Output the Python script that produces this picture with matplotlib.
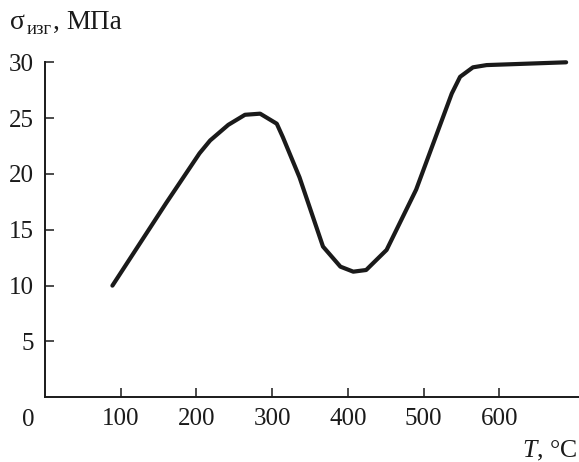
import matplotlib.pyplot as plt

plt.rcParams['font.family'] = 'Liberation Serif'
plt.rcParams['mathtext.fontset'] = 'custom'
plt.rcParams['mathtext.rm'] = 'Liberation Serif'
plt.rcParams['mathtext.it'] = 'Liberation Serif:italic'

temp = [89, 160, 204, 218, 242, 264, 284, 306, 314, 336, 367, 390, 407, 424, 442,
        451, 490, 537, 548, 565, 583, 688]
sigma = [10.0, 17.4, 21.85, 23.0, 24.4, 25.3, 25.4, 24.5, 23.3, 19.7, 13.5, 11.7, 11.25, 11.4, 12.6,
         13.2, 18.6, 27.2, 28.7, 29.55, 29.75, 30.0]

xticks = [100, 200, 300, 400, 500, 600]
yticks = [5, 10, 15, 20, 25, 30]

W, H = 579, 462
fig = plt.figure(figsize=(W / 100, H / 100), dpi=100)
ax = fig.add_axes([45 / W, 1 - 397.3 / H, 534 / W, 335 / H])

ax.plot(temp, sigma, color='#1a1a1a', lw=3.0, solid_joinstyle='round',
        solid_capstyle='round', clip_on=False)

ax.set_xlim(0, 705)
ax.set_ylim(0, 30)
ax.set_xticks(xticks)
ax.set_yticks(yticks)
ax.tick_params(direction='in', length=6.5, width=1.1, labelsize=18,
               colors='#1a1a1a', pad=8)
ax.tick_params(axis='x', pad=8)

for s in ['top', 'right']:
    ax.spines[s].set_visible(False)
for s in ['left', 'bottom']:
    ax.spines[s].set_linewidth(1.4)
    ax.spines[s].set_color('#1a1a1a')

# origin label
fig.text(28 / W, 1 - 420 / H, '0', fontsize=18, ha='center', va='center', color='#1a1a1a')

# y axis title: sigma with subscript
fig.text(10 / W, 1 - 29 / H, 'σ', fontsize=20, ha='left', va='baseline', color='#1a1a1a')
fig.text(27 / W, 1 - 34 / H, 'изг', fontsize=13.5, ha='left', va='baseline', color='#1a1a1a')
fig.text(53 / W, 1 - 29 / H, ',', fontsize=19.5, ha='left', va='baseline', color='#1a1a1a')
fig.text(66 / W, 1 - 29 / H, 'МПа', fontsize=19.5, ha='left', va='baseline', color='#1a1a1a')

# x axis title
fig.text(577 / W, 1 - 457 / H, r'$\mathit{T}$, °C', fontsize=18.5,
         ha='right', va='baseline', color='#1a1a1a')

fig.savefig('out.png', dpi=100)
